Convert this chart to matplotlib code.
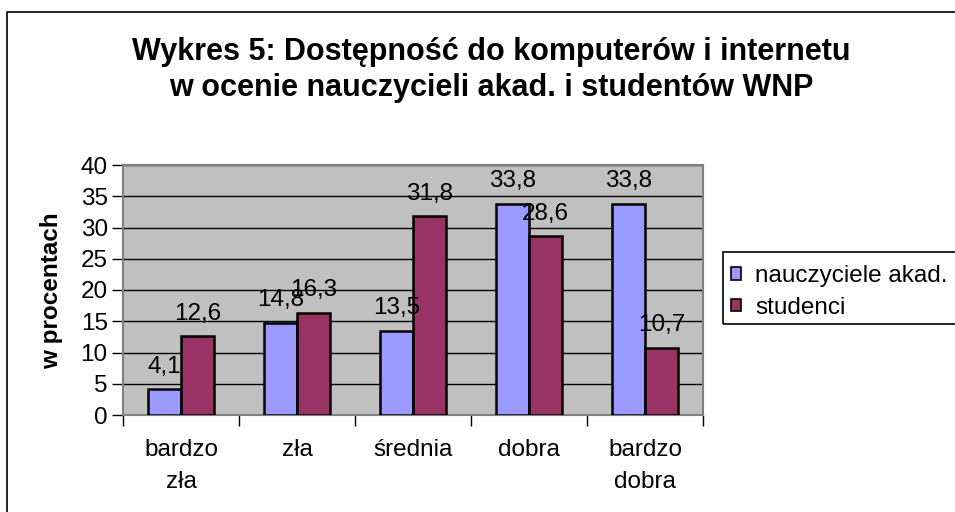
import matplotlib
matplotlib.use("Agg")
import matplotlib.pyplot as plt
import matplotlib.patches as mpatches
import numpy as np

plt.rcParams['font.family'] = ['Liberation Sans', 'DejaVu Sans']

categories = ["bardzo\nzła", "zła", "średnia", "dobra", "bardzo\ndobra"]
series_names = ["nauczyciele akad.", "studenci"]
teachers = [4.1, 14.8, 13.5, 33.8, 33.8]
students = [12.6, 16.3, 31.8, 28.6, 10.7]
teacher_labels = ["4,1", "14,8", "13,5", "33,8", "33,8"]
student_labels = ["12,6", "16,3", "31,8", "28,6", "10,7"]
yticks = [0, 5, 10, 15, 20, 25, 30, 35, 40]

FS = 17.5
W, H = 955, 512
fig = plt.figure(figsize=(W / 100, H / 100), dpi=100)
fig.patch.set_facecolor('white')

# outer chart border (top and left visible)
fig.patches.append(mpatches.Rectangle((7 / W, -0.1), 1.0, 1 - 12 / H + 0.1,
                                      transform=fig.transFigure, fill=False,
                                      edgecolor='black', linewidth=1.2))

ax = fig.add_axes([123 / W, 97 / H, 580 / W, 250 / H])
ax.set_facecolor('#C0C0C0')

x = np.arange(len(categories))
bw = 1 / 3.5
c_blue = '#9999FF'
c_red = '#993366'
ax.bar(x - bw / 2, teachers, bw, color=c_blue, edgecolor='black', linewidth=1.8, zorder=3)
ax.bar(x + bw / 2, students, bw, color=c_red, edgecolor='black', linewidth=1.8, zorder=3)

for xi, v, lab in zip(x - bw / 2, teachers, teacher_labels):
    ax.annotate(lab, (xi, v), xytext=(0, 12), textcoords='offset points',
                ha='center', va='baseline', fontsize=FS, zorder=5)
for xi, v, lab in zip(x + bw / 2, students, student_labels):
    ax.annotate(lab, (xi, v), xytext=(0, 12), textcoords='offset points',
                ha='center', va='baseline', fontsize=FS, zorder=5)

ax.set_xlim(-0.5, len(categories) - 0.5)
ax.set_ylim(0, 40)
ax.set_yticks(yticks)
ax.set_yticklabels([str(t) for t in yticks], fontsize=FS)
ax.yaxis.grid(True, color='black', linewidth=1.0, zorder=1)
ax.set_axisbelow(True)

# category boundaries as major ticks, labels on minor ticks
ax.set_xticks(np.arange(len(categories) + 1) - 0.5)
ax.set_xticklabels([])
ax.set_xticks(x, minor=True)
ax.set_xticklabels(categories, minor=True, fontsize=FS, linespacing=1.62)
ax.tick_params(axis='x', which='minor', length=0, pad=17)
ax.tick_params(axis='x', which='major', length=8, width=1, direction='out')
ax.tick_params(axis='y', length=8, width=1, direction='out', pad=3)

for s in ['top', 'right', 'left', 'bottom']:
    ax.spines[s].set_color('#808080')
    ax.spines[s].set_linewidth(1.5)

fig.text(52 / W, 1 - 291 / H, "w procentach", rotation=90, ha='center', va='center',
         fontsize=FS, fontweight='bold')

fig.text(491 / W, 1 - 70 / H,
         "Wykres 5: Dostępność do komputerów i internetu\nw ocenie nauczycieli akad. i studentów WNP",
         ha='center', va='center', fontsize=22, fontweight='bold', linespacing=1.3)

# legend
handles = [mpatches.Patch(facecolor=c_blue, edgecolor='black', linewidth=1.2),
           mpatches.Patch(facecolor=c_red, edgecolor='black', linewidth=1.2)]
fig.legend(handles, series_names, loc='center left',
           bbox_to_anchor=(731 / W, 1 - 292 / H), frameon=False, fontsize=FS,
           handlelength=0.42, handleheight=0.42, handletextpad=0.58, labelspacing=0.4,
           borderaxespad=0, borderpad=0)
fig.patches.append(mpatches.Rectangle((723 / W, 1 - 324 / H), 1.0, 72 / H,
                                      transform=fig.transFigure, fill=False,
                                      edgecolor='black', linewidth=1.2))

fig.savefig("out.png", dpi=100)
